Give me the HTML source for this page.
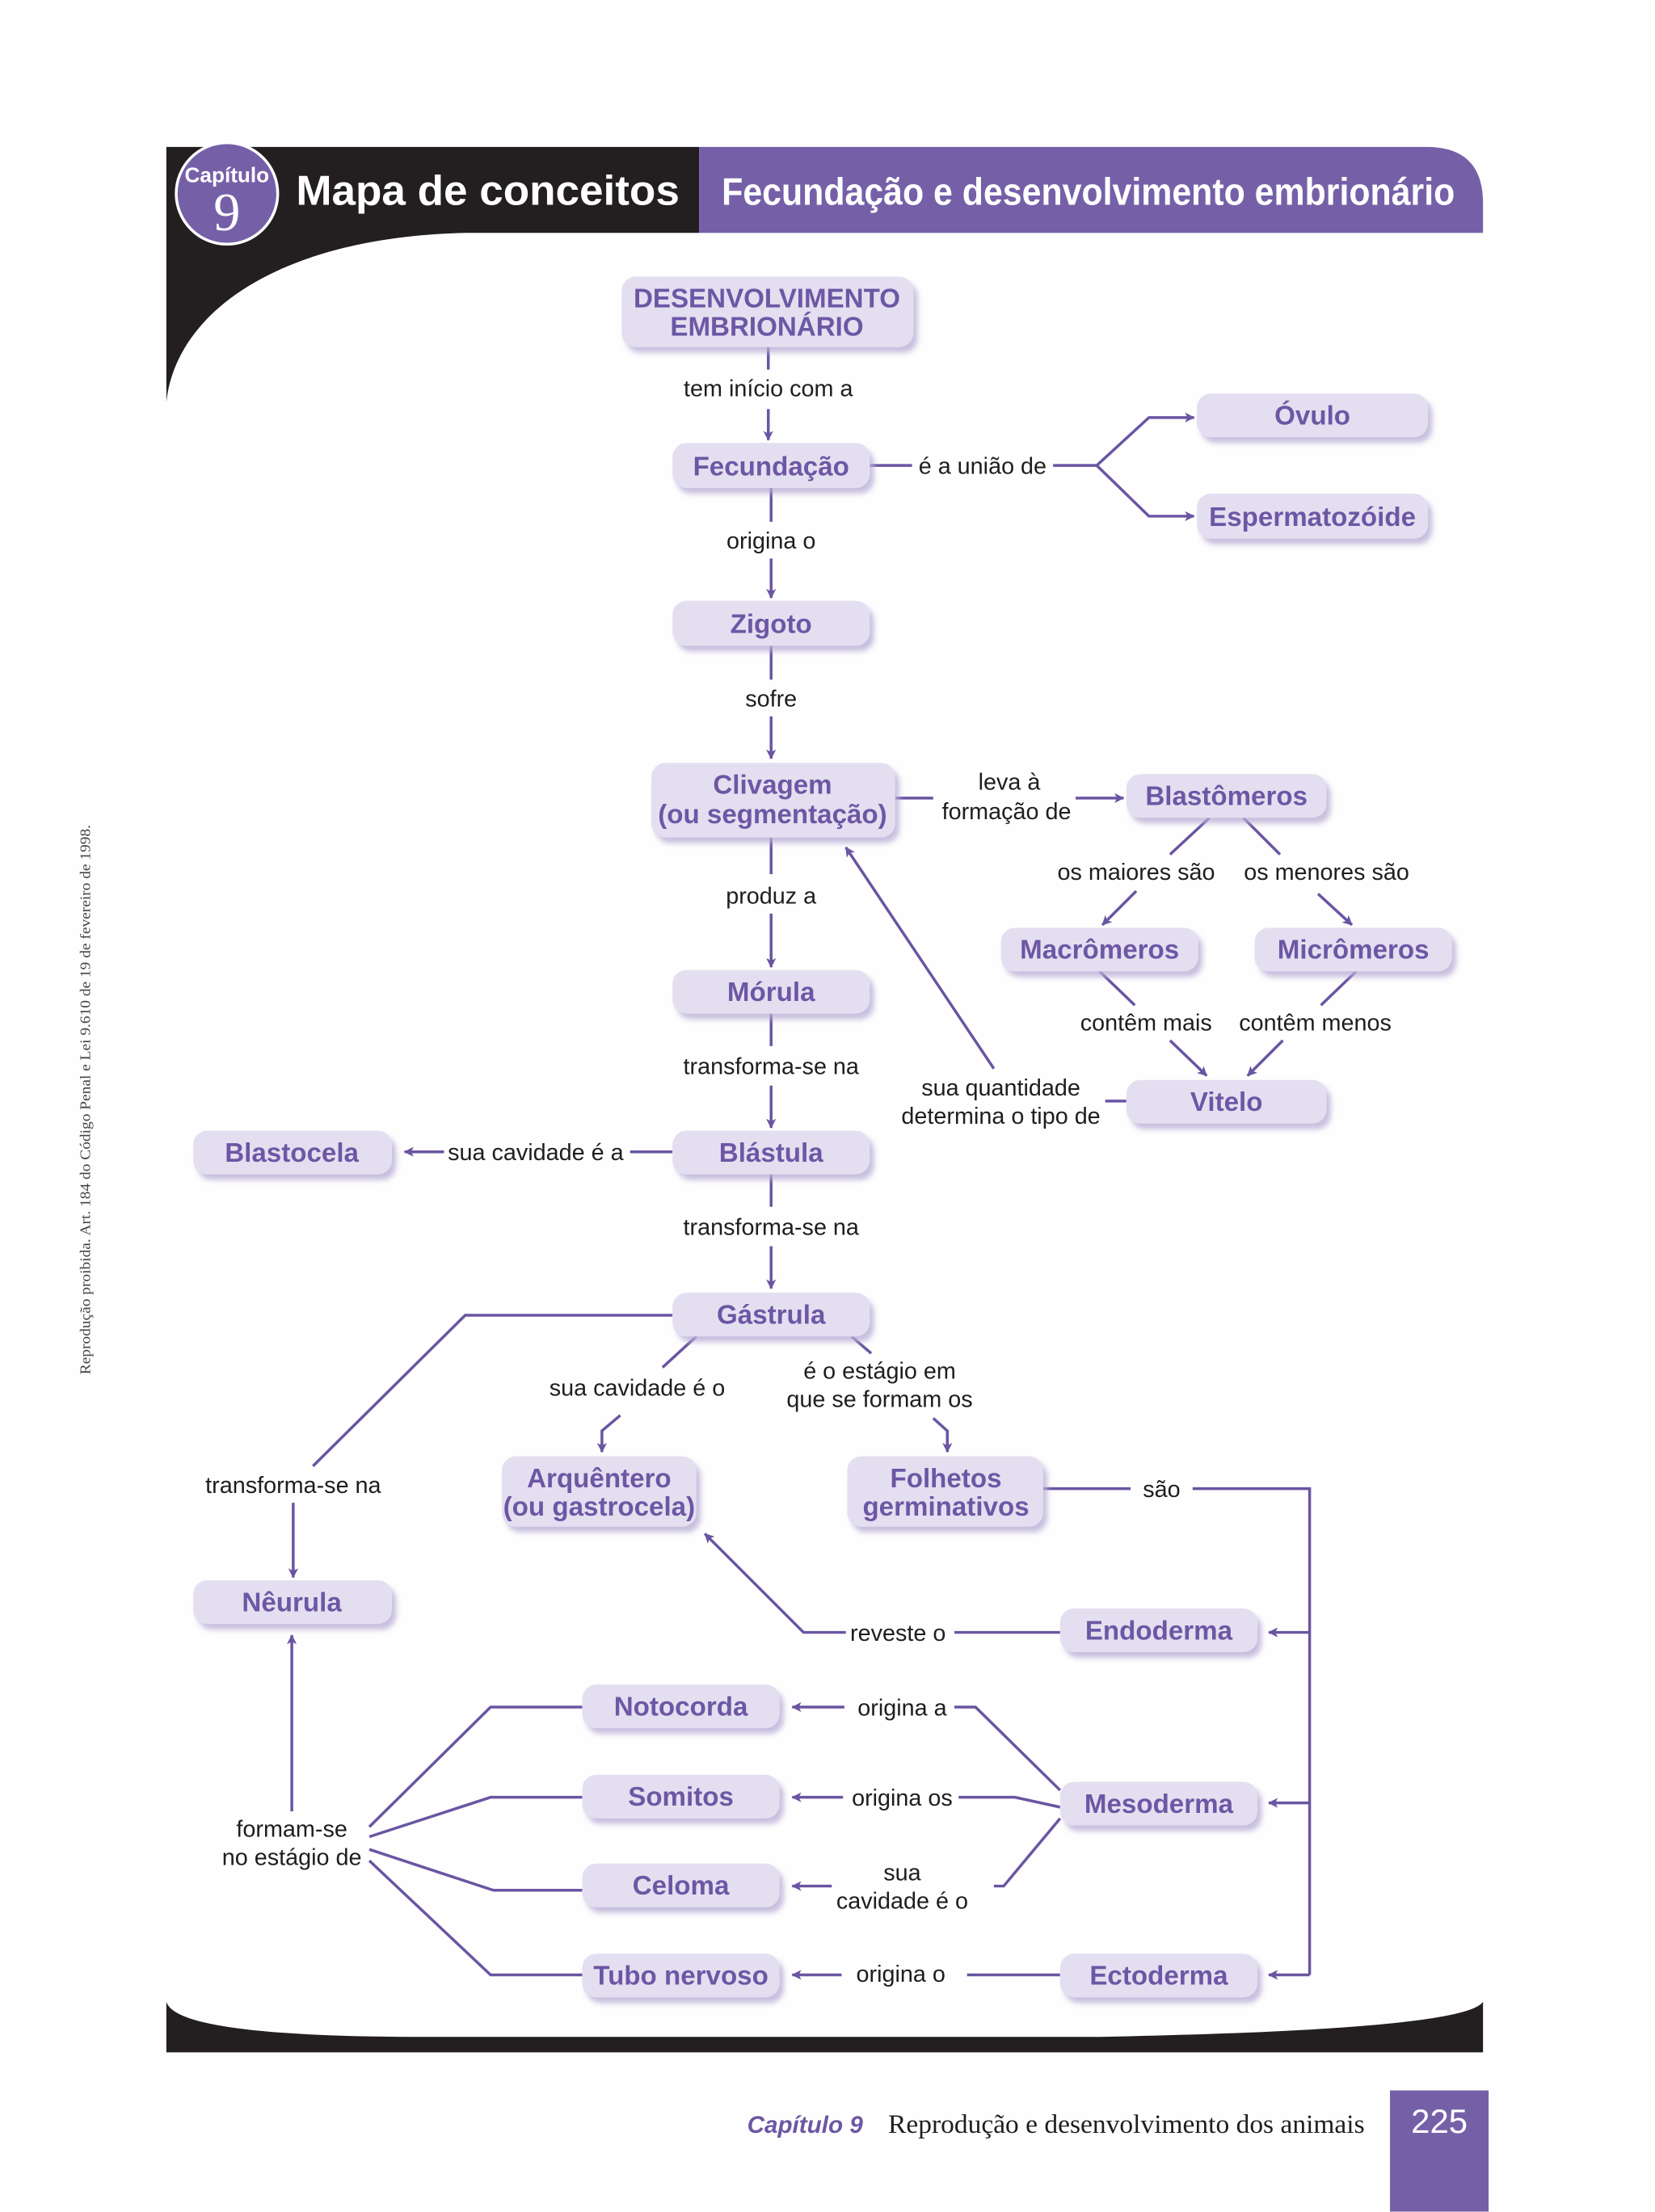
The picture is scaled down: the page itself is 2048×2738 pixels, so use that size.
<!DOCTYPE html>
<html><head><meta charset="utf-8">
<style>
html,body{margin:0;padding:0;background:#fefefe;}
svg{display:block;}
.n{font-family:"Liberation Sans Narrow","Liberation Sans",sans-serif;font-weight:bold;font-size:19px;fill:#6c57a5;text-anchor:middle;}
.l{font-family:"Liberation Sans Narrow","Liberation Sans",sans-serif;font-size:16.5px;fill:#1e1e1e;text-anchor:middle;}
.e{stroke:#6a55a2;stroke-width:2;fill:none;}
</style></head>
<body>
<svg width="2048" height="2738" viewBox="0 0 1174 1569" xmlns="http://www.w3.org/2000/svg">
<defs>
<marker id="a" viewBox="0 0 12 12" refX="11" refY="6" markerWidth="7" markerHeight="7" markerUnits="userSpaceOnUse" orient="auto">
<path d="M0,0 L12,6 L0,12 L3,6 Z" fill="#6a55a2"/>
</marker>
<filter id="s" x="-20%" y="-30%" width="150%" height="180%"><feGaussianBlur stdDeviation="2"/></filter>
</defs>
<rect width="1174" height="1569" fill="#fefefe"/>
<!-- header -->
<path d="M118,104 H496 V165 H330 C200,168 125,220 118,285 Z" fill="#231f20"/>
<path d="M496,104 H1012 Q1052,104 1052,144 V165 H496 Z" fill="#7560a8"/>
<circle cx="161" cy="137" r="36" fill="#7560a8" stroke="#fff" stroke-width="2"/>
<text x="161" y="129" font-family="Liberation Sans" font-weight="bold" font-size="15" fill="#fff" text-anchor="middle">Capítulo</text>
<text x="161" y="163" font-family="Liberation Serif" font-size="38" fill="#fff" text-anchor="middle">9</text>
<text x="210" y="145" font-family="Liberation Sans" font-weight="bold" font-size="30" fill="#fff" textLength="272" lengthAdjust="spacingAndGlyphs">Mapa de conceitos</text>
<text x="512" y="145" font-family="Liberation Sans" font-weight="bold" font-size="27" fill="#fff" textLength="520" lengthAdjust="spacingAndGlyphs">Fecundação e desenvolvimento embrionário</text>
<!-- bottom band -->
<path d="M118,1420 Q125,1445 300,1445 H780 Q1040,1440 1052,1420 V1456 H118 Z" fill="#231f20"/>
<!-- side text -->
<text transform="translate(64,780) rotate(-90)" font-family="Liberation Sans Narrow","Liberation Sans" font-size="10.5" fill="#444" text-anchor="middle" textLength="390" lengthAdjust="spacingAndGlyphs">Reprodução proibida. Art. 184 do Código Penal e Lei 9.610 de 19 de fevereiro de 1998.</text>
<!-- footer -->
<text x="530" y="1513" font-family="Liberation Sans" font-weight="bold" font-style="italic" font-size="17" fill="#6c57a5">Capítulo 9</text>
<text x="630" y="1513" font-family="Liberation Serif" font-size="19" fill="#1e1e1e" textLength="338" lengthAdjust="spacingAndGlyphs">Reprodução e desenvolvimento dos animais</text>
<rect x="986" y="1483" width="70" height="86" fill="#7560a8"/>
<text x="1021" y="1513" font-family="Liberation Sans" font-size="24" fill="#fff" text-anchor="middle">225</text>

<!-- edges -->
<g class="e">
<path d="M545,246 V262"/><path d="M545,290 V312" marker-end="url(#a)"/>
<path d="M617,330 H647"/><path d="M747,330 H778 L815,296 H847" marker-end="url(#a)"/><path d="M778,330 L815,366 H847" marker-end="url(#a)"/>
<path d="M547,346 V370"/><path d="M547,396 V424" marker-end="url(#a)"/>
<path d="M547,458 V482"/><path d="M547,508 V538" marker-end="url(#a)"/>
<path d="M635,566 H662"/><path d="M763,566 H797" marker-end="url(#a)"/>
<path d="M858,580 L830,606"/><path d="M806,632 L782,656" marker-end="url(#a)"/>
<path d="M882,580 L908,606"/><path d="M935,634 L959,656" marker-end="url(#a)"/>
<path d="M780,689 L805,713"/><path d="M830,738 L856,763" marker-end="url(#a)"/>
<path d="M962,689 L937,713"/><path d="M910,738 L885,763" marker-end="url(#a)"/>
<path d="M799,781 H784"/><path d="M705,758 L600,601" marker-end="url(#a)"/>
<path d="M547,594 V620"/><path d="M547,648 V686" marker-end="url(#a)"/>
<path d="M547,719 V742"/><path d="M547,770 V800" marker-end="url(#a)"/>
<path d="M477,817 H447"/><path d="M315,817 H287" marker-end="url(#a)"/>
<path d="M547,833 V856"/><path d="M547,884 V914" marker-end="url(#a)"/>
<path d="M477,933 H330 L222,1040"/><path d="M208,1066 V1119" marker-end="url(#a)"/>
<path d="M494,948 L470,970"/><path d="M440,1004 L427,1015 V1030" marker-end="url(#a)"/>
<path d="M604,948 L618,960"/><path d="M662,1006 L672,1015 V1030" marker-end="url(#a)"/>
<path d="M740,1056 H802"/><path d="M846,1056 H929 V1401"/>
<path d="M929,1158 H900" marker-end="url(#a)"/><path d="M929,1279 H900" marker-end="url(#a)"/><path d="M929,1401 H900" marker-end="url(#a)"/>
<path d="M752,1158 H677"/><path d="M600,1158 H570 L500,1088" marker-end="url(#a)"/>
<path d="M677,1211 H692 L752,1270"/><path d="M599,1211 H562" marker-end="url(#a)"/>
<path d="M680,1275 H720 L752,1282"/><path d="M598,1275 H562" marker-end="url(#a)"/>
<path d="M705,1338 H712 L752,1290"/><path d="M590,1338 H562" marker-end="url(#a)"/>
<path d="M752,1401 H686"/><path d="M597,1401 H562" marker-end="url(#a)"/>
<path d="M207,1285 V1160" marker-end="url(#a)"/>
<path d="M262,1296 L348,1211 H413"/><path d="M262,1303 L348,1275 H413"/>
<path d="M262,1312 L350,1341 H413"/><path d="M262,1320 L348,1401 H413"/>
</g>

<!-- nodes -->
<g id="nodes">
<g fill="#b9afd6" filter="url(#s)" opacity="0.8">
<rect x="444" y="200" width="207" height="50" rx="10"/>
<rect x="480" y="318" width="140" height="32" rx="10"/>
<rect x="852" y="283" width="164" height="31" rx="10"/>
<rect x="852" y="354" width="164" height="32" rx="10"/>
<rect x="480" y="430" width="140" height="32" rx="10"/>
<rect x="465" y="545" width="173" height="53" rx="10"/>
<rect x="802" y="553" width="142" height="31" rx="10"/>
<rect x="713" y="662" width="140" height="31" rx="10"/>
<rect x="893" y="662" width="140" height="31" rx="10"/>
<rect x="802" y="770" width="142" height="31" rx="10"/>
<rect x="480" y="692" width="140" height="31" rx="10"/>
<rect x="480" y="806" width="140" height="31" rx="10"/>
<rect x="140" y="806" width="141" height="31" rx="10"/>
<rect x="480" y="921" width="140" height="31" rx="10"/>
<rect x="359" y="1037" width="138" height="50" rx="10"/>
<rect x="604" y="1037" width="139" height="50" rx="10"/>
<rect x="140" y="1125" width="141" height="31" rx="10"/>
<rect x="755" y="1145" width="140" height="31" rx="10"/>
<rect x="416" y="1199" width="140" height="31" rx="10"/>
<rect x="416" y="1263" width="140" height="31" rx="10"/>
<rect x="755" y="1268" width="140" height="31" rx="10"/>
<rect x="416" y="1326" width="140" height="31" rx="10"/>
<rect x="416" y="1390" width="140" height="31" rx="10"/>
<rect x="755" y="1390" width="140" height="31" rx="10"/>
</g>
<g fill="#e4dff0">
<rect x="441" y="196" width="207" height="50" rx="10"/>
<rect x="477" y="314" width="140" height="32" rx="10"/>
<rect x="849" y="279" width="164" height="31" rx="10"/>
<rect x="849" y="350" width="164" height="32" rx="10"/>
<rect x="477" y="426" width="140" height="32" rx="10"/>
<rect x="462" y="541" width="173" height="53" rx="10"/>
<rect x="799" y="549" width="142" height="31" rx="10"/>
<rect x="710" y="658" width="140" height="31" rx="10"/>
<rect x="890" y="658" width="140" height="31" rx="10"/>
<rect x="799" y="766" width="142" height="31" rx="10"/>
<rect x="477" y="688" width="140" height="31" rx="10"/>
<rect x="477" y="802" width="140" height="31" rx="10"/>
<rect x="137" y="802" width="141" height="31" rx="10"/>
<rect x="477" y="917" width="140" height="31" rx="10"/>
<rect x="356" y="1033" width="138" height="50" rx="10"/>
<rect x="601" y="1033" width="139" height="50" rx="10"/>
<rect x="137" y="1121" width="141" height="31" rx="10"/>
<rect x="752" y="1141" width="140" height="31" rx="10"/>
<rect x="413" y="1195" width="140" height="31" rx="10"/>
<rect x="413" y="1259" width="140" height="31" rx="10"/>
<rect x="752" y="1264" width="140" height="31" rx="10"/>
<rect x="413" y="1322" width="140" height="31" rx="10"/>
<rect x="413" y="1386" width="140" height="31" rx="10"/>
<rect x="752" y="1386" width="140" height="31" rx="10"/>
</g>
</g>
<g class="n">
<text x="544" y="218">DESENVOLVIMENTO</text><text x="544" y="238">EMBRIONÁRIO</text>
<text x="547" y="337">Fecundação</text>
<text x="931" y="301">Óvulo</text>
<text x="931" y="373">Espermatozóide</text>
<text x="547" y="449">Zigoto</text>
<text x="548" y="563">Clivagem</text><text x="548" y="584">(ou segmentação)</text>
<text x="870" y="571">Blastômeros</text>
<text x="780" y="680">Macrômeros</text>
<text x="960" y="680">Micrômeros</text>
<text x="870" y="788">Vitelo</text>
<text x="547" y="710">Mórula</text>
<text x="547" y="824">Blástula</text>
<text x="207" y="824">Blastocela</text>
<text x="547" y="939">Gástrula</text>
<text x="425" y="1055">Arquêntero</text><text x="425" y="1075">(ou gastrocela)</text>
<text x="671" y="1055">Folhetos</text><text x="671" y="1075">germinativos</text>
<text x="207" y="1143">Nêurula</text>
<text x="822" y="1163">Endoderma</text>
<text x="483" y="1217">Notocorda</text>
<text x="483" y="1281">Somitos</text>
<text x="822" y="1286">Mesoderma</text>
<text x="483" y="1344">Celoma</text>
<text x="483" y="1408">Tubo nervoso</text>
<text x="822" y="1408">Ectoderma</text>
</g>
<g class="l">
<text x="545" y="281">tem início com a</text>
<text x="697" y="336">é a união de</text>
<text x="547" y="389">origina o</text>
<text x="547" y="501">sofre</text>
<text x="716" y="560">leva à</text><text x="714" y="581">formação de</text>
<text x="806" y="624">os maiores são</text>
<text x="941" y="624">os menores são</text>
<text x="813" y="731">contêm mais</text>
<text x="933" y="731">contêm menos</text>
<text x="710" y="777">sua quantidade</text><text x="710" y="797">determina o tipo de</text>
<text x="547" y="641">produz a</text>
<text x="547" y="762">transforma-se na</text>
<text x="380" y="823">sua cavidade é a</text>
<text x="547" y="876">transforma-se na</text>
<text x="208" y="1059">transforma-se na</text>
<text x="452" y="990">sua cavidade é o</text>
<text x="624" y="978">é o estágio em</text><text x="624" y="998">que se formam os</text>
<text x="824" y="1062">são</text>
<text x="637" y="1164">reveste o</text>
<text x="640" y="1217">origina a</text>
<text x="640" y="1281">origina os</text>
<text x="640" y="1334">sua</text><text x="640" y="1354">cavidade é o</text>
<text x="639" y="1406">origina o</text>
<text x="207" y="1303">formam-se</text><text x="207" y="1323">no estágio de</text>
</g>
</svg>
</body></html>
